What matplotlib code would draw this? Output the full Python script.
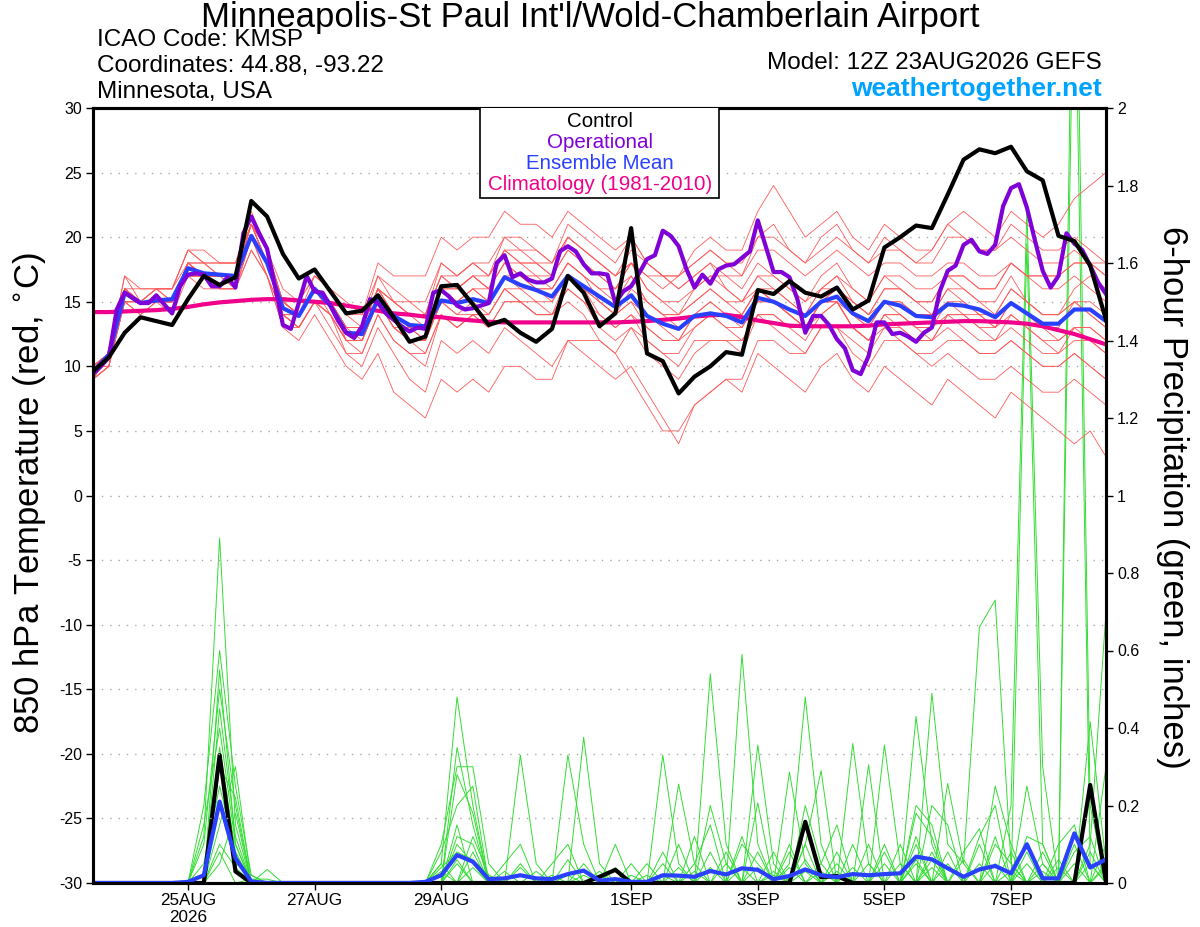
import matplotlib
matplotlib.use('Agg')
import matplotlib.pyplot as plt
import numpy as np
import pandas as pd
from matplotlib.patches import Rectangle

plt.rcParams['font.family'] = ['Liberation Sans', 'DejaVu Sans']
plt.rcParams['axes.unicode_minus'] = False

times = pd.date_range('2026-08-23 12:00', periods=65, freq='6h')
times_op = pd.date_range('2026-08-23 12:00', periods=129, freq='3h')

tick_dates = ['2026-08-25', '2026-08-27', '2026-08-29', '2026-09-01',
              '2026-09-03', '2026-09-05', '2026-09-07']
tick_labels = ['25AUG\n2026', '27AUG', '29AUG', '1SEP', '3SEP', '5SEP', '7SEP']

# 850 hPa temperature (C), 6-hourly
control_t = [9.6, 10.7, 12.6, 13.8, 13.5, 13.2, 15.2, 17.0, 16.3, 16.9,
             22.8, 21.6, 18.7, 16.8, 17.5, 15.8, 14.1, 14.3, 15.5, 13.8,
             11.9, 12.3, 16.2, 16.3, 14.8, 13.2, 13.6, 12.6, 11.9, 12.9,
             17.0, 15.7, 13.1, 14.1, 20.7, 11.0, 10.4, 7.9, 9.2, 10.0,
             11.1, 10.9, 15.9, 15.6, 16.6, 15.7, 15.4, 16.1, 14.4, 15.1,
             19.2, 20.0, 20.9, 20.7, 23.3, 26.0, 26.8, 26.5, 27.0, 25.1,
             24.4, 20.1, 19.7, 17.8, 13.6]

mean_t = [9.6, 10.9, 15.7, 14.9, 15.1, 15.2, 17.6, 17.2, 17.1, 17.0,
          20.1, 18.0, 14.5, 13.9, 16.0, 14.7, 12.6, 12.5, 15.2, 13.9,
          13.2, 13.1, 15.1, 14.9, 15.2, 14.9, 16.9, 16.3, 15.9, 15.4,
          17.0, 16.2, 15.4, 14.6, 15.5, 13.9, 13.3, 12.9, 13.9, 14.1,
          13.9, 13.4, 15.3, 15.0, 14.4, 13.9, 15.0, 15.4, 14.1, 13.5,
          15.0, 14.7, 13.9, 13.8, 14.8, 14.7, 14.4, 13.8, 14.9, 14.1,
          13.3, 13.3, 14.4, 14.4, 13.5]

clim_t = [14.2, 14.2, 14.25, 14.3, 14.35, 14.45, 14.6, 14.8, 14.95, 15.05,
          15.15, 15.2, 15.2, 15.1, 15.0, 14.9, 14.7, 14.5, 14.3, 14.1,
          14.0, 13.85, 13.8, 13.65, 13.55, 13.45, 13.4, 13.4, 13.4, 13.4,
          13.4, 13.4, 13.4, 13.4, 13.45, 13.5, 13.6, 13.7, 13.85, 13.95,
          14.0, 13.8, 13.55, 13.35, 13.15, 13.1, 13.1, 13.1, 13.1, 13.15,
          13.25, 13.3, 13.35, 13.4, 13.45, 13.5, 13.5, 13.45, 13.4, 13.3,
          13.1, 12.8, 12.5, 12.1, 11.7]

# operational run, 3-hourly
oper_t = [9.4, 10.0, 10.7, 14.4, 15.7, 15.3, 14.9, 14.9, 15.5, 14.8,
          14.1, 16.2, 17.1, 17.2, 17.1, 16.2, 16.2, 16.9, 16.1, 20.3,
          21.6, 20.3, 19.1, 16.2, 13.2, 12.9, 14.9, 17.0, 15.8, 15.7,
          14.7, 13.5, 12.6, 12.2, 13.1, 15.2, 14.9, 14.1, 13.6, 13.1,
          12.7, 13.0, 12.9, 15.7, 15.9, 15.4, 14.7, 14.4, 14.5, 14.7,
          14.9, 18.0, 18.6, 16.9, 17.2, 16.7, 16.5, 16.5, 16.8, 18.9,
          19.3, 18.9, 17.9, 17.2, 17.2, 17.1, 14.9, 15.8, 16.2, 17.2,
          18.3, 18.6, 20.5, 20.1, 19.3, 17.5, 16.1, 17.1, 16.4, 17.5,
          17.8, 17.9, 18.4, 18.9, 21.3, 19.3, 17.3, 17.3, 16.9, 15.2,
          12.6, 13.9, 13.9, 13.2, 12.1, 11.4, 9.7, 9.4, 10.8, 13.4,
          13.4, 12.5, 12.6, 12.3, 11.9, 12.6, 13.0, 15.8, 17.4, 17.8,
          19.4, 19.8, 18.9, 18.7, 19.4, 22.4, 23.8, 24.1, 22.3, 19.8,
          17.4, 16.1, 17.0, 20.3, 19.5, 19.0, 17.8, 16.5, 15.6]

# ensemble members, temperature (C), 6-hourly
red_members = [
    [10, 11, 16, 15, 15, 15, 18, 17, 17, 17, 21, 19, 15, 14, 16, 15, 13, 13, 16, 15,
     14, 14, 17, 16, 17, 16, 19, 18, 18, 17, 19, 18, 17, 16, 18, 17, 16, 17, 18, 19,
     18, 17, 20, 21, 19, 18, 20, 21, 19, 18, 20, 19, 18, 19, 21, 22, 21, 20, 22, 21,
     20, 21, 23, 24, 25],
    [10, 10, 15, 14, 15, 15, 17, 17, 16, 16, 20, 18, 14, 13, 15, 14, 11, 10, 13, 11,
     9, 8, 12, 11, 12, 11, 13, 12, 11, 10, 12, 11, 10, 9, 10, 8, 6, 4, 7, 8,
     9, 8, 11, 10, 9, 8, 10, 11, 9, 8, 10, 9, 8, 7, 9, 8, 7, 6, 8, 7,
     6, 5, 4, 5, 3],
    [9, 11, 17, 15, 16, 16, 19, 18, 18, 18, 22, 19, 15, 14, 17, 16, 14, 13, 17, 16,
     15, 15, 18, 17, 18, 17, 20, 19, 19, 18, 21, 20, 19, 18, 20, 18, 17, 16, 17, 18,
     17, 16, 18, 17, 16, 15, 17, 18, 16, 15, 17, 16, 15, 14, 16, 15, 14, 13, 15, 14,
     13, 13, 15, 14, 13],
    [10, 11, 15, 15, 15, 14, 17, 16, 16, 16, 19, 17, 13, 13, 15, 13, 11, 11, 14, 12,
     11, 10, 14, 13, 14, 14, 16, 15, 14, 14, 17, 16, 14, 13, 14, 12, 11, 10, 12, 12,
     12, 11, 14, 14, 13, 12, 14, 15, 13, 12, 14, 14, 13, 13, 14, 14, 13, 12, 14, 13,
     12, 11, 13, 12, 11],
    [9, 10, 16, 15, 15, 15, 18, 18, 17, 17, 21, 18, 15, 14, 16, 15, 13, 13, 16, 14,
     13, 12, 16, 16, 17, 16, 18, 17, 16, 16, 18, 17, 16, 15, 17, 15, 14, 14, 15, 16,
     15, 15, 17, 16, 15, 14, 16, 16, 14, 13, 15, 15, 14, 14, 16, 16, 15, 15, 17, 15,
     14, 14, 16, 17, 16],
    [10, 11, 16, 15, 16, 15, 18, 17, 17, 17, 20, 18, 15, 14, 16, 15, 13, 12, 15, 14,
     13, 13, 16, 15, 16, 16, 18, 18, 17, 17, 20, 19, 18, 17, 19, 18, 17, 17, 19, 20,
     19, 19, 22, 24, 22, 20, 21, 22, 20, 19, 21, 20, 19, 19, 21, 20, 19, 19, 21, 20,
     19, 19, 20, 19, 18],
    [9, 10, 15, 14, 15, 15, 17, 17, 16, 16, 20, 17, 14, 13, 15, 14, 12, 12, 15, 13,
     12, 12, 15, 14, 14, 14, 16, 15, 15, 14, 15, 14, 12, 11, 9, 7, 5, 5, 7, 8,
     9, 9, 12, 12, 11, 11, 13, 13, 12, 11, 13, 13, 12, 12, 14, 14, 13, 13, 14, 13,
     12, 12, 13, 13, 12],
    [10, 11, 16, 16, 16, 16, 19, 18, 18, 18, 21, 19, 15, 15, 17, 16, 14, 14, 17, 15,
     15, 14, 18, 17, 18, 18, 20, 20, 19, 18, 20, 19, 18, 17, 18, 16, 15, 14, 15, 16,
     15, 14, 16, 15, 14, 13, 15, 16, 15, 14, 16, 16, 15, 15, 17, 17, 16, 16, 18, 17,
     16, 16, 17, 16, 15],
    [9, 10, 15, 15, 15, 15, 17, 17, 17, 16, 19, 17, 13, 12, 14, 12, 10, 9, 11, 8,
     7, 6, 9, 8, 9, 8, 10, 10, 9, 9, 12, 12, 12, 11, 13, 12, 11, 11, 13, 14,
     13, 13, 15, 15, 14, 13, 15, 15, 13, 12, 14, 13, 12, 12, 13, 12, 11, 11, 12, 11,
     10, 10, 11, 10, 9],
    [10, 11, 16, 15, 16, 16, 18, 17, 17, 17, 21, 18, 15, 14, 16, 15, 13, 13, 16, 15,
     14, 14, 17, 16, 17, 17, 19, 18, 18, 17, 19, 18, 17, 16, 17, 15, 14, 13, 14, 15,
     14, 14, 16, 16, 15, 14, 16, 17, 16, 15, 17, 17, 16, 16, 17, 16, 15, 14, 16, 15,
     14, 14, 15, 15, 14],
    [10, 11, 17, 16, 16, 16, 19, 19, 18, 18, 21, 19, 16, 15, 17, 16, 15, 14, 18, 17,
     17, 17, 20, 19, 20, 20, 22, 21, 21, 20, 22, 21, 20, 19, 20, 18, 17, 16, 17, 18,
     16, 15, 16, 15, 14, 13, 15, 15, 13, 12, 14, 14, 13, 12, 14, 13, 12, 12, 13, 12,
     11, 11, 12, 12, 11],
    [9, 11, 16, 15, 15, 15, 18, 17, 17, 17, 20, 18, 14, 14, 16, 15, 12, 12, 15, 13,
     12, 12, 15, 14, 15, 14, 16, 16, 15, 15, 17, 16, 15, 14, 16, 15, 14, 14, 16, 17,
     17, 17, 19, 19, 18, 17, 18, 19, 18, 17, 18, 18, 17, 17, 18, 18, 17, 17, 18, 17,
     17, 17, 18, 18, 17],
    [10, 11, 16, 15, 15, 15, 18, 17, 17, 17, 21, 18, 15, 14, 16, 15, 13, 13, 16, 14,
     13, 13, 16, 15, 16, 15, 17, 17, 16, 16, 18, 17, 15, 14, 15, 13, 12, 12, 14, 15,
     14, 14, 16, 15, 14, 13, 14, 15, 13, 12, 13, 12, 11, 10, 11, 10, 9, 9, 10, 9,
     8, 8, 9, 8, 7],
    [10, 10, 15, 15, 15, 15, 17, 17, 17, 17, 20, 18, 15, 14, 16, 15, 13, 13, 16, 14,
     14, 13, 16, 16, 17, 16, 18, 17, 17, 16, 18, 17, 16, 16, 18, 17, 17, 17, 18, 19,
     18, 18, 20, 20, 19, 18, 19, 20, 19, 18, 19, 19, 18, 18, 20, 20, 19, 19, 20, 19,
     18, 18, 19, 18, 17],
    [9, 10, 16, 15, 15, 15, 18, 18, 17, 17, 21, 18, 14, 13, 15, 14, 12, 12, 15, 13,
     12, 11, 14, 13, 14, 13, 15, 15, 14, 14, 16, 15, 14, 13, 14, 13, 12, 12, 13, 14,
     13, 12, 14, 13, 12, 11, 13, 13, 11, 10, 12, 12, 11, 11, 12, 12, 11, 11, 12, 11,
     10, 10, 11, 10, 9],
    [10, 11, 16, 15, 16, 15, 18, 17, 17, 17, 20, 18, 15, 14, 16, 15, 13, 13, 16, 15,
     14, 14, 17, 17, 18, 17, 19, 19, 18, 18, 20, 19, 18, 17, 18, 16, 15, 15, 16, 17,
     16, 15, 17, 17, 16, 15, 16, 17, 15, 14, 15, 15, 14, 14, 15, 15, 14, 14, 16, 15,
     14, 14, 15, 14, 13],
    [10, 11, 16, 15, 15, 15, 17, 17, 17, 17, 21, 18, 14, 14, 16, 14, 12, 12, 15, 13,
     13, 12, 15, 15, 16, 15, 17, 16, 16, 15, 17, 16, 15, 14, 15, 14, 13, 12, 14, 14,
     14, 13, 15, 15, 14, 13, 15, 15, 14, 13, 15, 14, 13, 13, 15, 14, 14, 13, 15, 14,
     13, 12, 13, 13, 12],
    [10, 11, 15, 15, 15, 15, 18, 17, 17, 16, 20, 17, 14, 13, 15, 14, 12, 11, 14, 12,
     11, 11, 14, 13, 14, 13, 15, 15, 14, 14, 16, 15, 13, 12, 13, 11, 10, 9, 11, 12,
     12, 12, 14, 14, 13, 13, 15, 16, 15, 14, 16, 16, 15, 15, 17, 17, 16, 16, 18, 17,
     17, 17, 18, 18, 18],
]

# 6-hour precipitation (inches)
control_p = [0, 0, 0, 0, 0, 0, 0, 0, 0.33, 0.03, 0, 0, 0, 0, 0, 0, 0, 0, 0, 0,
             0, 0, 0, 0, 0, 0, 0, 0, 0, 0, 0, 0, 0.016, 0.034, 0, 0, 0, 0, 0, 0,
             0, 0, 0, 0, 0, 0.158, 0.015, 0.018, 0, 0, 0, 0, 0, 0, 0, 0, 0, 0, 0, 0,
             0, 0, 0, 0.253, 0.003]

mean_p = [0, 0, 0, 0, 0, 0, 0.003, 0.02, 0.21, 0.064, 0.004, 0, 0, 0, 0, 0, 0, 0, 0, 0,
          0, 0.003, 0.02, 0.072, 0.055, 0.01, 0.012, 0.02, 0.012, 0.01, 0.023, 0.032,
          0.006, 0.01, 0.003, 0.003, 0.02, 0.019, 0.016, 0.031, 0.022, 0.038, 0.034,
          0.01, 0.018, 0.035, 0.02, 0.015, 0.023, 0.02, 0.023, 0.025, 0.068, 0.061,
          0.038, 0.016, 0.035, 0.044, 0.025, 0.1, 0.012, 0.012, 0.128, 0.04, 0.061]

# ensemble members, precipitation: {6-hour step: inches}, other steps are 0
green_members = [
    {7: .12, 8: .89, 9: .15, 22: .05, 23: .48, 24: .2, 30: .33, 31: .1, 39: .54, 40: .1,
     44: .05, 45: .48, 46: .1, 52: .43, 53: .1, 58: .2, 59: 1.74, 60: .3, 63: .1, 64: .7},
    {7: .2, 8: .6, 9: .25, 10: .02, 23: .35, 24: .15, 27: .33, 28: .05, 36: .33, 37: .05,
     41: .59, 42: .1, 48: .36, 49: .05, 53: .49, 54: .1, 55: .05, 56: .66, 57: .73, 58: .05,
     62: 2.8, 63: .2},
    {8: .55, 9: .1, 22: .1, 23: .3, 24: .3, 25: .05, 31: .376, 32: .05, 37: .255, 38: .05,
     42: .356, 43: .05, 45: .1, 46: .29, 50: .356, 51: .05, 54: .257, 55: .05, 59: 1.65,
     60: .1, 63: .416, 64: .05},
    {7: .1, 8: .5, 9: .2, 23: .28, 24: .18, 33: .1, 39: .2, 40: .05, 44: .286, 45: .05,
     49: .305, 53: .2, 54: .15, 57: .25, 58: .1, 62: 2.5, 63: .05},
    {8: .45, 9: .12, 22: .08, 23: .2, 24: .25, 26: .05, 27: .1, 34: .05, 42: .207,
     45: .2, 46: .05, 47: .15, 52: .2, 53: .15, 59: .12, 60: .1, 64: .3},
    {7: .15, 8: .4, 9: .1, 11: .035, 23: .12, 24: .1, 29: .05, 30: .1, 38: .05, 39: .15,
     44: .1, 48: .1, 52: .18, 53: .12, 56: .12, 57: .2, 61: .1, 62: .15},
    {8: .35, 9: .08, 22: .04, 23: .08, 24: .06, 25: .02, 30: .02, 36: .08, 41: .1,
     42: .05, 45: .1, 50: .08, 52: .1, 55: .08, 56: .14, 59: .05, 62: .08, 63: .12},
    {8: .3, 9: .22, 22: .05, 24: .12, 25: .02, 27: .05, 32: .03, 37: .1, 40: .08,
     43: .03, 46: .05, 49: .1, 51: .05, 53: .08, 57: .1, 58: .05, 60: .05, 64: .1},
    {7: .05, 8: .25, 9: .08, 23: .1, 24: .05, 28: .03, 31: .05, 35: .02, 39: .08,
     41: .12, 44: .04, 47: .05, 50: .1, 52: .05, 54: .08, 57: .05, 59: .25, 60: .05, 62: .05},
    {8: .2, 9: .05, 10: .02, 23: .15, 26: .03, 33: .04, 36: .05, 38: .12, 42: .08,
     45: .06, 48: .04, 52: .12, 55: .06, 58: .08, 61: .04, 63: .08},
    {8: .15, 9: .3, 22: .03, 24: .08, 30: .06, 34: .02, 37: .04, 40: .05, 43: .08,
     46: .03, 49: .05, 53: .06, 56: .1, 60: .08, 64: .05},
    {8: .1, 9: .04, 23: .05, 27: .04, 31: .02, 35: .05, 39: .04, 42: .04, 44: .08,
     47: .08, 51: .1, 54: .05, 57: .12, 59: .08, 62: .1},
    {8: .08, 10: .01, 11: .01, 24: .04, 29: .02, 36: .02, 41: .04, 45: .03, 50: .05,
     53: .04, 58: .03, 61: .06, 63: .05},
    {8: .05, 9: .18, 23: .06, 32: .02, 38: .03, 43: .02, 47: .03, 52: .06, 56: .05,
     60: .03, 64: .04},
]

c_control = 'black'
c_oper = '#8000d8'
c_mean = '#2a40ff'
c_clim = '#f0008a'

fig = plt.figure(figsize=(12, 9.27), dpi=100)
ax = fig.add_axes([93 / 1200, 44 / 927, 1013 / 1200, 775 / 927])
ax2 = ax.twinx()
ax.set_zorder(ax2.get_zorder() + 1)
ax.patch.set_visible(False)

# precipitation (right axis)
for m in green_members:
    p = [m.get(i, 0) for i in range(len(times))]
    ax2.plot(times, p, color='#33dd33', lw=0.7)
ax2.plot(times, control_p, color=c_control, lw=3)
ax2.plot(times, mean_p, color=c_mean, lw=3)
ax2.set_ylim(0, 2)
ax2.set_yticks(np.arange(0, 2.01, 0.2))
ax2.set_yticklabels(['0', '0.2', '0.4', '0.6', '0.8', '1', '1.2', '1.4', '1.6', '1.8', '2'])

# temperature (left axis)
for m in red_members:
    ax.plot(times, m, color='#ff5a5a', lw=0.6)
ax.plot(times, clim_t, color=c_clim, lw=3)
ax.plot(times, mean_t, color=c_mean, lw=3)
ax.plot(times_op, oper_t, color=c_oper, lw=3)
ax.plot(times, control_t, color=c_control, lw=3)
ax.set_ylim(-30, 30)
ax.set_yticks(np.arange(-30, 31, 5))
ax.yaxis.grid(True, linestyle=(0, (1, 5)), color='#a8a8a8', lw=1)
ax.set_xlim(times[0], times[-1])
ax.set_xticks(pd.to_datetime(tick_dates))
ax.set_xticklabels(tick_labels)

for a in (ax, ax2):
    for s in a.spines.values():
        s.set_linewidth(2.2)
    a.tick_params(direction='out', length=5, width=1, labelsize=11.5, pad=3)
ax.tick_params(axis='x', labelsize=12.3, pad=2)

# legend box
ax.add_patch(Rectangle((0.382, 0.884), 0.236, 0.12, transform=ax.transAxes,
                       facecolor='white', edgecolor='black', lw=1.2, zorder=10))
legend_items = [('Control', c_control), ('Operational', c_oper),
                ('Ensemble Mean', c_mean), ('Climatology (1981-2010)', c_clim)]
for k, (txt, col) in enumerate(legend_items):
    ax.text(0.5005, 0.983 - k * 0.0272, txt, color=col, fontsize=14.8,
            ha='center', va='center', transform=ax.transAxes, zorder=11)

# header texts
fig.text(590 / 1200, 1 - 18 / 927, "Minneapolis-St Paul Int'l/Wold-Chamberlain Airport",
         fontsize=25, ha='center', va='center')
fig.text(97 / 1200, 1 - 40 / 927, 'ICAO Code: KMSP', fontsize=17.5, va='center')
fig.text(97 / 1200, 1 - 66 / 927, 'Coordinates: 44.88, -93.22', fontsize=17.5, va='center')
fig.text(97 / 1200, 1 - 92 / 927, 'Minnesota, USA', fontsize=17.5, va='center')
fig.text(1102 / 1200, 1 - 63 / 927, 'Model: 12Z 23AUG2026 GEFS', fontsize=17.5,
         ha='right', va='center')
fig.text(1102 / 1200, 1 - 89 / 927, 'weathertogether.net', fontsize=19,
         fontweight='bold', color='#00a2ff', ha='right', va='center')

fig.text(30 / 1200, 1 - 493 / 927, r'850 hPa Temperature (red, $^{\circ}$C)',
         fontsize=25, rotation=90, ha='center', va='center')
fig.text(1172 / 1200, 1 - 497 / 927, '6-hour Precipitation (green, inches)',
         fontsize=25, rotation=270, ha='center', va='center')

fig.savefig('out.png', dpi=100)
